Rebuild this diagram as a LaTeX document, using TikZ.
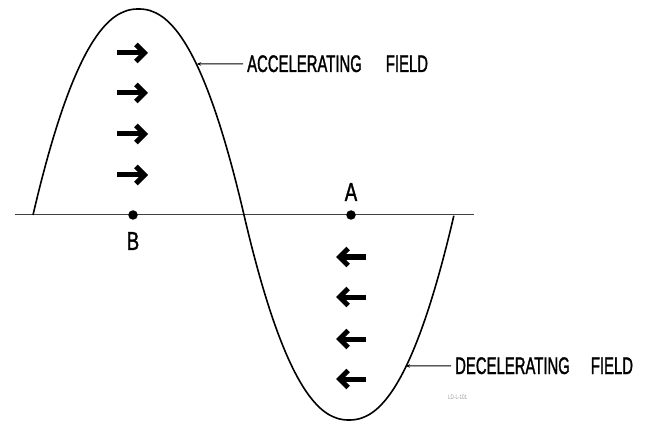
\documentclass[tikz,border=0pt]{standalone}
\usepackage{fontspec}
\usetikzlibrary{arrows.meta}
\newfontfamily\lettering[FakeStretch=0.62,FakeBold=1.3]{Liberation Sans}
\newfontfamily\ptlettering[FakeStretch=0.72,FakeBold=1.3]{Liberation Sans}
\newfontfamily\codefont[FakeStretch=0.7]{Liberation Sans}
\tikzset{
  curve/.style={line width=1.6pt, line join=round, black},
  axisline/.style={line width=1pt, black!75},
  fieldarrow/.style={line width=5pt, -{Straight Barb[length=8.5pt,width=17pt]}},
  leader/.style={line width=1pt, -{Stealth[length=4pt,width=3.5pt]}, shorten <=4pt},
  caption/.style={inner sep=0pt, anchor=base west, font=\lettering\fontsize{24}{26}\selectfont},
  pointlabel/.style={inner sep=0pt, anchor=base, font=\ptlettering\fontsize{26}{28}\selectfont},
  dot/.style={circle, fill=black, inner sep=0pt, minimum size=9.5pt}
}
\begin{document}
\begin{tikzpicture}[x=1pt,y=-1pt]
\useasboundingbox (0,0) rectangle (656,422);
% axis
\coordinate (axL) at (15,215);
\coordinate (axR) at (474,215);
\draw[axisline] (axL) -- (axR);
% wave
\draw[curve] plot[domain=-1:1, samples=100, variable=\t] ({138.5+105.5*\t},{215-206*(1-abs(\t)^2.2)})
  -- plot[domain=-1:1, samples=100, variable=\t] ({349+105*\t},{215+205*(1-abs(\t)^2.2)});
% points
\node[dot] (B) at (133,215) {};
\node[dot] (A) at (351,215) {};
\node[pointlabel] (Alab) at (351,201) {A};
\node[pointlabel] (Blab) at (133,250) {B};
% accelerating arrows
\foreach \y [count=\i] in {53,93,134,175} {
  \coordinate (r\i a) at (117,\y);
  \coordinate (r\i b) at (148,\y);
  \draw[fieldarrow] (r\i a) -- (r\i b);
}
% decelerating arrows
\foreach \y [count=\i] in {257,297,339,379} {
  \coordinate (l\i a) at (366,\y);
  \coordinate (l\i b) at (336,\y);
  \draw[fieldarrow] (l\i a) -- (l\i b);
}
% labels
\node[caption] (acclab) at (247,72) {ACCELERATING\hspace{24pt}FIELD};
\node[caption] (declab) at (455,374) {DECELERATING\hspace{21pt}FIELD};
\coordinate (accpt) at (197,64);
\coordinate (decpt) at (406,366);
\draw[leader] (acclab.west) -- (accpt);
\draw[leader] (declab.west) -- (decpt);
\node[inner sep=0pt, anchor=west, text=black!40, font=\codefont\fontsize{6.5}{7}\selectfont] (code) at (448,397) {LD-L-101};
\end{tikzpicture}
\end{document}
